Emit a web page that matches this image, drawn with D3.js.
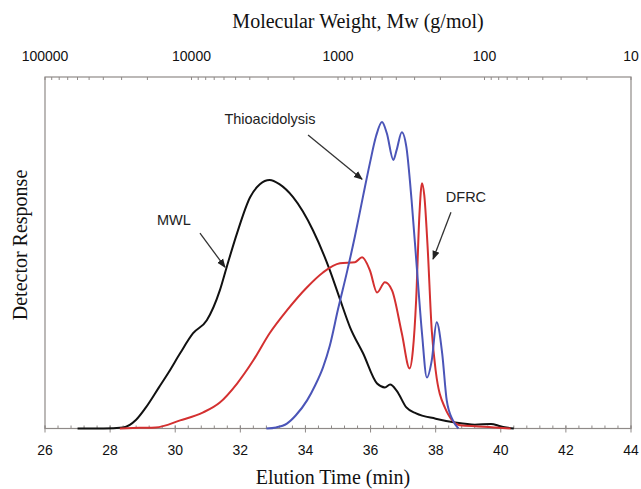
<!DOCTYPE html>
<html><head><meta charset="utf-8">
<script src="https://cdn.jsdelivr.net/npm/d3@7/dist/d3.min.js"></script>
<style>body{margin:0;background:#fff}svg{display:block}</style>
</head><body><svg id="c" width="641" height="489"></svg>
<script>
// ---- data (elution time in min, detector response in arbitrary units) ----
const mwl = [[27.0,0],[27.8,0],[28.4,0.3],[28.8,2.5],[29.1,6.0],[29.5,11.7],[29.8,16],[30.15,21.4],[30.55,27.1],[30.97,30.8],[31.37,39.3],[31.58,45.9],[31.9,55.6],[32.3,65.8],[32.6,69.5],[32.9,70.7],[33.2,69.5],[33.62,65.8],[34.23,56.4],[34.75,45.0],[35.06,36.8],[35.37,28.8],[35.77,21.4],[36.2,12.8],[36.44,11.7],[36.6,12.5],[36.8,10.8],[37.1,6.0],[37.4,4.3],[38.0,2.8],[38.6,1.7],[39.2,1.1],[39.7,1.3],[40.0,0.6],[40.4,0]];
const dfrc = [[28.3,0],[28.9,0.2],[29.4,0.3],[30.15,2.3],[30.86,4.6],[31.37,7.4],[31.9,12.8],[32.4,19.4],[32.9,27.1],[33.43,33.6],[34.05,40.2],[34.54,44.4],[35.06,47.0],[35.52,47.3],[35.74,48.7],[35.98,45.0],[36.2,38.7],[36.44,41.6],[36.66,39.3],[36.96,27.1],[37.2,17.1],[37.3,22.2],[37.4,36.5],[37.5,60.7],[37.58,69.8],[37.65,66.4],[37.75,52.1],[37.88,27.9],[38.0,16.5],[38.28,6.0],[38.75,0.9],[39.3,0.6],[39.8,0.3],[40.3,0]];
const thio = [[32.8,0],[33.1,0.3],[33.43,1.4],[33.7,3.7],[34.05,8.0],[34.3,12.3],[34.54,17.4],[34.75,23.6],[35.0,33.9],[35.28,44.7],[35.52,54.7],[35.77,66.1],[35.98,75.5],[36.17,83.2],[36.35,87.2],[36.5,84.0],[36.7,76.4],[36.8,79.2],[36.96,84.3],[37.1,80.1],[37.26,65.0],[37.42,45.9],[37.58,27.1],[37.73,14.5],[37.88,19.4],[38.03,30.2],[38.2,21.4],[38.34,8.0],[38.53,2.3],[38.7,0]];
const timeTicks = [26,28,30,32,34,36,38,40,42,44];
const mwTicks = [100000,10000,1000,100,10];
const labels = [
  {text:"Thioacidolysis", t:32.91, r:88.0, from:[34.08,83.5], to:[35.74,70.9]},
  {text:"MWL", t:29.96, r:59.3, from:[30.76,55.6], to:[31.53,45.9]},
  {text:"DFRC", t:38.93, r:65.8, from:[38.47,61.5], to:[37.92,48.2]}
];

const svg = d3.select("#c");
const L=45, R=631, T=77, B=428.5;
const x = d3.scaleLinear().domain([26,44]).range([L,R]);
const xTop = d3.scaleLog().domain([100000,10]).range([L,R]);
const y = d3.scaleLinear().domain([0,100]).range([B,T]);
const frameColor = "#8f8a88";

// frame
svg.append("rect").attr("x",L).attr("y",T).attr("width",R-L).attr("height",B-T)
  .attr("fill","none").attr("stroke",frameColor).attr("stroke-width",1.2);

// bottom ticks
const minor = d3.range(26,44.001,0.4);
svg.append("g").selectAll("line").data(minor).join("line")
  .attr("x1",d=>x(d)).attr("x2",d=>x(d)).attr("y1",B-3).attr("y2",B)
  .attr("stroke",frameColor).attr("stroke-width",1);
svg.append("g").selectAll("line").data(timeTicks).join("line")
  .attr("x1",d=>x(d)).attr("x2",d=>x(d)).attr("y1",B-3).attr("y2",B+4)
  .attr("stroke",frameColor).attr("stroke-width",1);
svg.append("g").selectAll("text").data(timeTicks).join("text")
  .attr("x",d=>x(d)).attr("y",455).attr("text-anchor","middle")
  .attr("font-family","Liberation Sans, Arial, sans-serif").attr("font-size",14)
  .attr("fill","#111").text(d=>d);

// top ticks (log)
const logMinor = [];
for (let dec=10; dec<100000; dec*=10) for (let k=1;k<10;k++) logMinor.push(dec*k);
logMinor.push(100000);
svg.append("g").selectAll("line").data(logMinor).join("line")
  .attr("x1",d=>xTop(d)).attr("x2",d=>xTop(d)).attr("y1",T).attr("y2",T+3)
  .attr("stroke",frameColor).attr("stroke-width",1);
svg.append("g").selectAll("text").data(mwTicks).join("text")
  .attr("x",d=>xTop(d)).attr("y",61).attr("text-anchor","middle")
  .attr("font-family","Liberation Sans, Arial, sans-serif").attr("font-size",14)
  .attr("fill","#111").text(d=>d);

// titles
svg.append("text").attr("x",358).attr("y",28).attr("text-anchor","middle")
  .attr("font-family","Liberation Serif, Times New Roman, serif").attr("font-size",20)
  .attr("fill","#111").text("Molecular Weight, Mw (g/mol)");
svg.append("text").attr("x",333).attr("y",484).attr("text-anchor","middle")
  .attr("font-family","Liberation Serif, Times New Roman, serif").attr("font-size",20)
  .attr("fill","#111").text("Elution Time (min)");
svg.append("text").attr("transform","translate(27,245) rotate(-90)").attr("text-anchor","middle")
  .attr("font-family","Liberation Serif, Times New Roman, serif").attr("font-size",20)
  .attr("fill","#111").text("Detector Response");

// curves
const line = d3.line().x(d=>x(d[0])).y(d=>y(d[1])).curve(d3.curveMonotoneX);
const series = [
  {data:mwl, color:"#111"},
  {data:dfrc, color:"#d43030"},
  {data:thio, color:"#4b55b8"}
];
svg.append("g").selectAll("path").data(series).join("path")
  .attr("d",d=>line(d.data)).attr("fill","none").attr("stroke",d=>d.color)
  .attr("stroke-width",2).attr("stroke-linejoin","round");

// annotations
svg.append("defs").append("marker").attr("id","ah").attr("viewBox","0 0 10 10")
  .attr("refX",9).attr("refY",5).attr("markerWidth",7).attr("markerHeight",7)
  .attr("orient","auto").append("path").attr("d","M0,1 L10,5 L0,9 Z").attr("fill","#222");
const ann = svg.append("g");
ann.selectAll("text").data(labels).join("text")
  .attr("x",d=>x(d.t)).attr("y",d=>y(d.r)).attr("dy","0.35em").attr("text-anchor","middle")
  .attr("font-family","Liberation Sans, Arial, sans-serif").attr("font-size",14.5)
  .attr("fill","#222").text(d=>d.text);
ann.selectAll("line").data(labels).join("line")
  .attr("x1",d=>x(d.from[0])).attr("y1",d=>y(d.from[1]))
  .attr("x2",d=>x(d.to[0])).attr("y2",d=>y(d.to[1]))
  .attr("stroke","#333").attr("stroke-width",1.3).attr("marker-end","url(#ah)");
</script></body></html>
